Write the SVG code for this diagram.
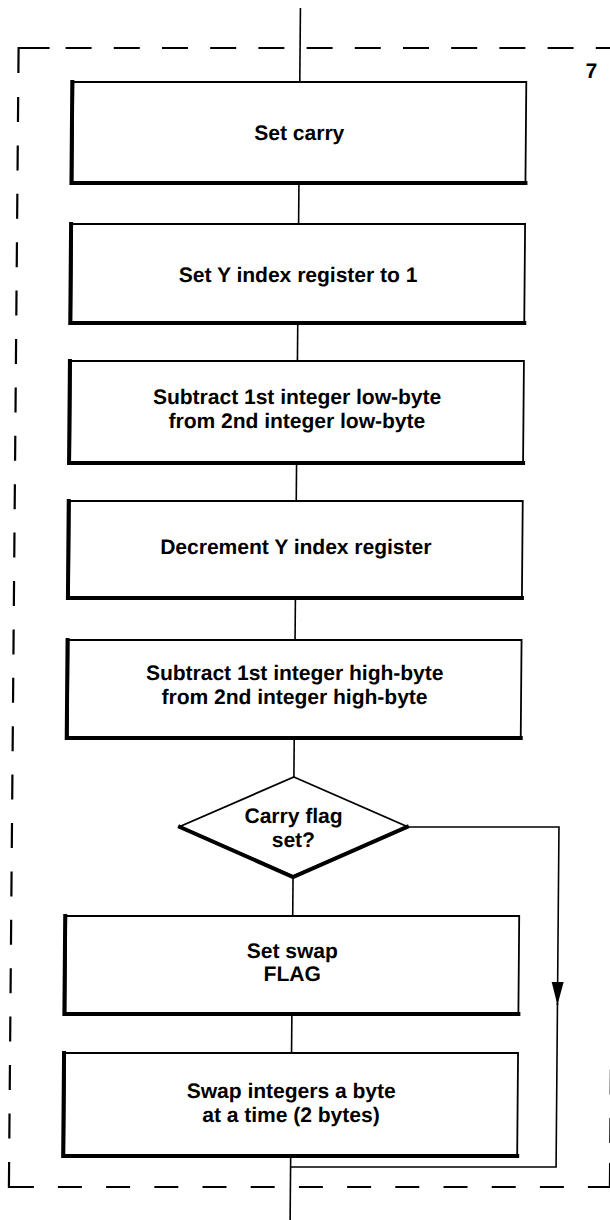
<svg xmlns="http://www.w3.org/2000/svg" width="610" height="1220" viewBox="0 0 610 1220">
<style>
.box{fill:#fff;stroke:#000;stroke-width:1.8}
.shadow{fill:none;stroke:#000;stroke-width:4;stroke-linejoin:miter;stroke-linecap:square}
.lbl{font-family:"Liberation Sans",Arial,Helvetica,sans-serif;font-weight:bold;font-size:21px;fill:#000;text-anchor:middle}
.conn{fill:none;stroke:#000;stroke-width:1.6}
.dash{fill:none;stroke:#000;stroke-width:2.2;stroke-linejoin:miter}
</style>
<defs>
<marker id="arrow" markerUnits="userSpaceOnUse" markerWidth="24" markerHeight="13" refX="23" refY="6.5" orient="auto" viewBox="0 0 24 13"><path d="M0,0.5 L23,6.5 L0,12.5 z" fill="#000"/></marker>
</defs>
<rect width="610" height="1220" fill="#fff"/>
<g transform="matrix(1 0 -0.0085 1 0 0)">
<g id="frame">
<path class="dash" d="M19,73 V48 H50"/>
<path class="dash" d="M66,48 H625" stroke-dasharray="26 22.2"/>
<path class="dash" d="M19,97 V1138.4" stroke-dasharray="25 23.4"/>
<path class="dash" d="M19,1162 V1187 H44"/>
<path class="dash" d="M68,1187 H575" stroke-dasharray="24 24.2"/>
<path class="dash" d="M598,1187 H620 V1163"/>
<path class="dash" d="M620,1143 V40" stroke-dasharray="25 23.4"/>
</g>
<g id="label7"><text class="lbl" x="592" y="78" font-size="20">7</text></g>
<g id="connectors">
<path class="conn" d="M300.5,8 V82"/>
<path class="conn" d="M300.5,182 V224"/>
<path class="conn" d="M300.5,322 V361"/>
<path class="conn" d="M300.5,462 V501"/>
<path class="conn" d="M300.5,597 V640"/>
<path class="conn" d="M300.5,737 V777"/>
<path class="conn" d="M300.5,876 V916"/>
<path class="conn" d="M300.5,1013 V1053"/>
<path class="conn" d="M300.5,1155 V1230"/>
<path class="conn" d="M414,827 H566 V1005" marker-end="url(#arrow)"/>
<path class="conn" d="M566,1003 V1167 H300.5"/>
</g>
<g id="n1">
<rect class="box" x="74" y="82" width="453" height="100"/>
<path class="shadow" d="M73,82 V183 H527"/>
<text class="lbl" x="300.5" y="140">Set carry</text>
</g>
<g id="n2">
<rect class="box" x="74" y="224" width="453" height="98"/>
<path class="shadow" d="M73,224 V323 H527"/>
<text class="lbl" x="300.5" y="282">Set Y index register to 1</text>
</g>
<g id="n3">
<rect class="box" x="74" y="361" width="453" height="101"/>
<path class="shadow" d="M73,361 V463 H527"/>
<text class="lbl" x="300.5" y="404">Subtract 1st integer low-byte</text>
<text class="lbl" x="300.5" y="428">from 2nd integer low-byte</text>
</g>
<g id="n4">
<rect class="box" x="74" y="501" width="453" height="96"/>
<path class="shadow" d="M73,501 V598 H527"/>
<text class="lbl" x="300.5" y="554">Decrement Y index register</text>
</g>
<g id="n5">
<rect class="box" x="74" y="640" width="453" height="97"/>
<path class="shadow" d="M73,640 V738 H527"/>
<text class="lbl" x="300.5" y="680">Subtract 1st integer high-byte</text>
<text class="lbl" x="300.5" y="704">from 2nd integer high-byte</text>
</g>
<g id="decision">
<polygon class="box" points="300.5,777 414,826.5 300.5,876 187,826.5"/>
<path class="shadow" d="M187,827 L300.5,877 L414,827" stroke-width="4.5" stroke-linecap="butt"/>
<text class="lbl" x="300.5" y="823">Carry flag</text>
<text class="lbl" x="300.5" y="847">set?</text>
</g>
<g id="n6">
<rect class="box" x="74" y="916" width="453" height="97"/>
<path class="shadow" d="M73,916 V1014 H527"/>
<text class="lbl" x="300.5" y="958">Set swap</text>
<text class="lbl" x="300.5" y="981">FLAG</text>
</g>
<g id="n7">
<rect class="box" x="74" y="1053" width="453" height="102"/>
<path class="shadow" d="M73,1053 V1156 H527"/>
<text class="lbl" x="300.5" y="1098">Swap integers a byte</text>
<text class="lbl" x="300.5" y="1122">at a time (2 bytes)</text>
</g>
</g>
</svg>
